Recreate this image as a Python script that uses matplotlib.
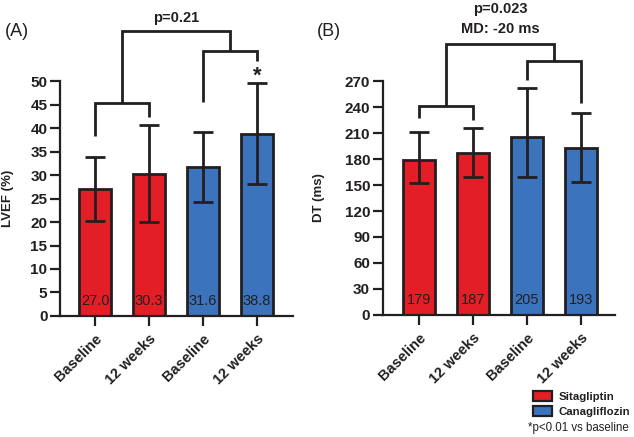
import matplotlib
matplotlib.use('Agg')
import matplotlib.pyplot as plt
from matplotlib.patches import Patch

plt.rcParams['font.family'] = ['Liberation Sans', 'DejaVu Sans']

categories = ['Baseline', '12 weeks', 'Baseline', '12 weeks']
groups = ['Sitagliptin', 'Canagliflozin']
group_of_bar = [0, 0, 1, 1]

lvef_mean = [27.0, 30.3, 31.6, 38.8]
lvef_low = [20.2, 19.9, 24.2, 28.0]
lvef_high = [33.8, 40.7, 39.2, 49.6]
lvef_labels = ['27.0', '30.3', '31.6', '38.8']

dt_mean = [179, 187, 205, 193]
dt_low = [152, 159, 159, 153]
dt_high = [211, 216, 262, 233]
dt_labels = ['179', '187', '205', '193']

RED = '#E41E26'
BLUE = '#3B74BC'
INK = '#231F20'
group_colors = [RED, BLUE]

fig = plt.figure(figsize=(6.34, 4.37), dpi=100)
axA = fig.add_axes([0.0946, 0.2769, 0.368, 0.5377])
axB = fig.add_axes([0.6036, 0.2792, 0.3664, 0.5354])


def draw_panel(ax, means, lows, highs, labels, yticks, ylabel, xlim):
    x = list(range(len(means)))
    cols = [group_colors[g] for g in group_of_bar]
    ax.bar(x, means, width=0.59, color=cols, edgecolor=INK, linewidth=2.0, zorder=2)
    err = [[m - l for m, l in zip(means, lows)], [h - m for m, h in zip(means, highs)]]
    ax.errorbar(x, means, yerr=err, fmt='none', ecolor=INK, elinewidth=2.0,
                capsize=7.5, capthick=2.0, zorder=3)
    for xi, lab in zip(x, labels):
        ax.annotate(lab, xy=(xi, 0), xytext=(0, 8), textcoords='offset points',
                    ha='center', va='baseline', fontsize=10.5, color=INK, zorder=4)
    ax.set_xlim(*xlim)
    ax.set_ylim(yticks[0], yticks[-1])
    ax.set_yticks(yticks)
    ax.set_xticks(x)
    ax.set_xticklabels(categories, rotation=45, ha='right', rotation_mode='anchor',
                       fontsize=10.5, fontweight='bold')
    for t in ax.get_yticklabels():
        t.set_fontsize(11)
        t.set_fontweight('bold')
    ax.tick_params(axis='both', width=1.6, length=7, color=INK, labelcolor=INK, pad=2)
    ax.tick_params(axis='x', pad=4)
    for s in ['top', 'right']:
        ax.spines[s].set_visible(False)
    for s in ['left', 'bottom']:
        ax.spines[s].set_linewidth(1.6)
        ax.spines[s].set_color(INK)
    ax.set_ylabel(ylabel, fontsize=9.5, fontweight='bold', color=INK)


def line(ax, xs, ys):
    ax.plot(xs, ys, color=INK, lw=2.0, clip_on=False, solid_capstyle='butt',
            solid_joinstyle='miter', zorder=5)


draw_panel(axA, lvef_mean, lvef_low, lvef_high, lvef_labels,
           list(range(0, 51, 5)), 'LVEF (%)', (-0.65, 3.67))
draw_panel(axB, dt_mean, dt_low, dt_high, dt_labels,
           list(range(0, 271, 30)), 'DT (ms)', (-0.67, 3.63))
axA.yaxis.set_label_coords(-0.197, 0.5)
axB.yaxis.set_label_coords(-0.248, 0.5)

# Panel A brackets
line(axA, [0, 0, 1, 1], [38.4, 45.3, 45.3, 42.3])
line(axA, [2, 2, 3, 3], [45.5, 56.4, 56.4, 54.3])
line(axA, [0.5, 0.5, 2.5, 2.5], [45.3, 60.7, 60.7, 56.4])
axA.text(3, 48.8, '*', ha='center', va='bottom', fontsize=16, fontweight='bold',
         color=INK, clip_on=False)
axA.text(1.5, 63.4, 'p=0.21', ha='center', va='center', fontsize=10.5,
         fontweight='bold', color=INK, clip_on=False)

# Panel B brackets
line(axB, [0, 0, 1, 1], [227, 241, 241, 225])
line(axB, [2, 2, 3, 3], [271, 293, 293, 245])
line(axB, [0.5, 0.5, 2.5, 2.5], [241, 313, 313, 293])
axB.text(1.5, 330, 'MD: -20 ms', ha='center', va='center', fontsize=10.5,
         fontweight='bold', color=INK, clip_on=False)
axB.text(1.5, 353, 'p=0.023', ha='center', va='center', fontsize=10.5,
         fontweight='bold', color=INK, clip_on=False)

fig.text(5 / 634, 1 - 32 / 437, '(A)', fontsize=13, va='center', ha='left', color=INK)
fig.text(317 / 634, 1 - 32 / 437, '(B)', fontsize=13, va='center', ha='left', color=INK)

handles = [Patch(facecolor=group_colors[i], edgecolor=INK, linewidth=1.6, label=groups[i])
           for i in range(len(groups))]
leg = fig.legend(handles=handles, loc='upper left', bbox_to_anchor=(533 / 634, 1 - 391 / 437),
                 frameon=False, fontsize=8.2, handlelength=1.7, handleheight=1.0,
                 handletextpad=0.55, labelspacing=0.35, borderaxespad=0, borderpad=0)
for t in leg.get_texts():
    t.set_fontweight('bold')
    t.set_color(INK)
fig.text(528 / 634, 1 - 428 / 437, '*p<0.01 vs baseline', fontsize=8.3, va='center',
         ha='left', color=INK)

fig.savefig('out.png', dpi=100)
